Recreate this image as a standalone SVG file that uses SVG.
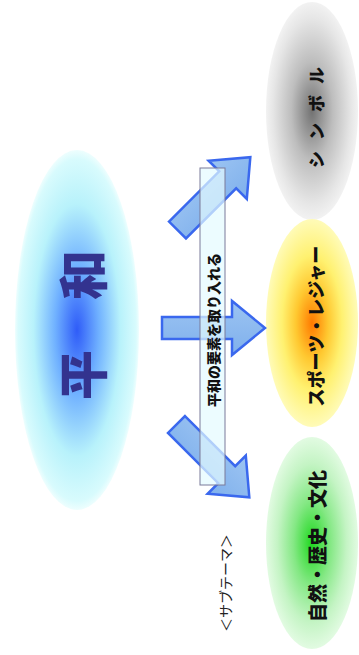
<svg xmlns="http://www.w3.org/2000/svg" width="359" height="655" viewBox="0 0 359 655">
<defs>
<radialGradient id="gBlue" cx="0.5" cy="0.5" r="0.5">
<stop offset="0" stop-color="#2f5cf8"/>
<stop offset="0.35" stop-color="#6fb0ff"/>
<stop offset="0.7" stop-color="#b8f2fb"/>
<stop offset="0.95" stop-color="#d8fbfd"/>
<stop offset="1" stop-color="#eefefe"/>
</radialGradient>
<radialGradient id="gGray" cx="0.5" cy="0.5" r="0.5">
<stop offset="0" stop-color="#727272"/>
<stop offset="0.45" stop-color="#bdbdbd"/>
<stop offset="0.85" stop-color="#e6e6e6"/>
<stop offset="1" stop-color="#f2f2f2"/>
</radialGradient>
<radialGradient id="gYellow" cx="0.5" cy="0.5" r="0.5">
<stop offset="0" stop-color="#ff7a00"/>
<stop offset="0.35" stop-color="#ffc830"/>
<stop offset="0.65" stop-color="#fff170"/>
<stop offset="1" stop-color="#fffbb8"/>
</radialGradient>
<radialGradient id="gGreen" cx="0.5" cy="0.5" r="0.5">
<stop offset="0" stop-color="#1fd81f"/>
<stop offset="0.4" stop-color="#84e884"/>
<stop offset="0.75" stop-color="#c4f4c4"/>
<stop offset="1" stop-color="#e2fbe2"/>
</radialGradient>
<linearGradient id="gArrow" x1="0" y1="0" x2="0" y2="1">
<stop offset="0" stop-color="#9cc4f2"/>
<stop offset="1" stop-color="#7fb0ec"/>
</linearGradient>
</defs>
<style>
.jp{font-family:"Noto Sans CJK JP","Noto Sans CJK SC",sans-serif;font-weight:900;text-anchor:middle;dominant-baseline:central}
.arrow{fill:url(#gArrow);stroke:#3a68ee;stroke-width:2.5;stroke-linejoin:miter}
.node-text{fill:#111111}
</style>
<rect width="359" height="655" fill="#ffffff"/>

<g id="heiwa">
<ellipse cx="77" cy="330" rx="62" ry="180" fill="url(#gBlue)"/>
<text class="jp" transform="translate(80,325) rotate(-90)" font-size="50" fill="#33338f">平　和</text>
</g>

<g id="symbol">
<ellipse cx="312" cy="111" rx="46" ry="109" fill="url(#gGray)"/>
<text class="jp node-text" transform="translate(315,112) rotate(-90)" font-size="17" letter-spacing="11">シンボル</text>
</g>

<g id="sports">
<ellipse cx="312" cy="323" rx="46" ry="104" fill="url(#gYellow)"/>
<text class="jp node-text" transform="translate(315,326) rotate(-90)" font-size="18">スポーツ・レジャー</text>
</g>

<g id="nature">
<ellipse cx="312" cy="543" rx="46" ry="106" fill="url(#gGreen)"/>
<text class="jp node-text" transform="translate(316,546) rotate(-90)" font-size="19">自然・歴史・文化</text>
</g>

<g id="connectors">
<polygon class="arrow" transform="translate(177.5,230) rotate(-45)" points="0,-12 71,-12 71,-27 103,0 71,27 71,12 0,12"/>
<polygon class="arrow" transform="translate(162,328) rotate(0)" points="0,-11 70,-11 70,-27 103,0 70,27 70,11 0,11"/>
<polygon class="arrow" transform="translate(176.5,424.5) rotate(45)" points="0,-12 71,-12 71,-27 103,0 71,27 71,12 0,12"/>
</g>

<g id="label">
<rect x="200" y="168" width="25" height="317" fill="#e4fbff" fill-opacity="0.7" stroke="#7a7a9a" stroke-width="1"/>
<text class="jp" transform="translate(213,330) rotate(-90)" font-size="14" fill="#111111">平和の要素を取り入れる</text>
</g>

<g id="subtheme">
<text transform="translate(225,583) rotate(-90)" font-family="Noto Sans CJK JP, sans-serif" font-size="14" text-anchor="middle" dominant-baseline="central" fill="#222222">＜サブテーマ＞</text>
</g>
</svg>
